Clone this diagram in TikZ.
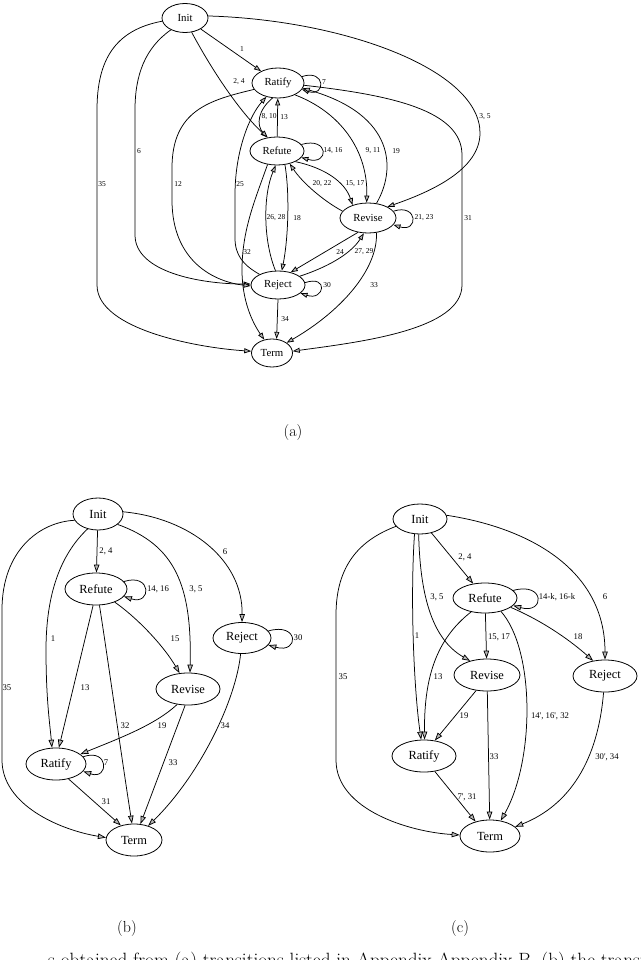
\documentclass[tikz,border=0pt]{standalone}
\usepackage{fontspec}
\newfontfamily\gvfont{Liberation Serif}
\usetikzlibrary{arrows.meta,shapes.geometric}
\begin{document}
\begin{tikzpicture}[x=1pt,y=-1pt,
  st/.style={draw, ellipse, inner sep=0pt, line width=0.8pt, font=\gvfont\fontsize{10.8}{12}\selectfont},
  stb/.style={draw, ellipse, inner sep=0pt, line width=0.8pt, font=\gvfont\fontsize{12.4}{14}\selectfont},
  tr/.style={line width=0.75pt, -{Triangle[length=7pt,width=5pt,fill=gray!55]}},
  trb/.style={line width=0.75pt, -{Triangle[length=8pt,width=5.5pt,fill=gray!55]}},
  lab/.style={inner sep=0pt, font=\gvfont\fontsize{7.5}{9}\selectfont},
  labb/.style={inner sep=0pt, font=\gvfont\fontsize{8.7}{10}\selectfont},
  subcap/.style={inner sep=0pt, font=\fontsize{16}{19}\selectfont},
  captext/.style={inner sep=0pt, font=\fontsize{19.2}{23}\selectfont}
]
\useasboundingbox (0,0) rectangle (640,960);

% ---------------- (a) ----------------
\node[st, minimum width=46pt, minimum height=29pt] (aI) at (185,18) {Init};
\node[st, minimum width=52pt, minimum height=30pt] (aRa) at (278,83) {Ratify};
\node[st, minimum width=54pt, minimum height=28pt] (aRf) at (277,151) {Refute};
\node[st, minimum width=56pt, minimum height=30pt] (aRv) at (368,218) {Revise};
\node[st, minimum width=54pt, minimum height=28pt] (aRj) at (278,285) {Reject};
\node[st, minimum width=41pt, minimum height=28pt] (aT) at (272,353) {Term};

\draw[tr] (aI) -- (aRa);
\draw[tr] (aI.-65) .. controls (213,72) and (240,112) .. (aRf.125);
\draw[tr] (aI.5) .. controls (345,20) and (480,70) .. (480,133) .. controls (480,170) and (430,192) .. (aRv.30);
\draw[tr] (aI.-140) .. controls (145,48) and (135,75) .. (135,110) -- (135,235) .. controls (135,272) and (200,284) .. (aRj.178);
\draw[tr] (aI.-172) .. controls (115,30) and (97,60) .. (97,110) -- (97,285) .. controls (97,330) and (200,348) .. (aT.175);
\draw[tr] (aRa.15) .. controls +(24,-8) and +(24,8) .. (aRa.-15);
\draw[tr] (aRa.-110) .. controls (258,110) and (256,125) .. (aRf.125);
\draw[tr] (aRf) -- (aRa);
\draw[tr] (aRa.-35) .. controls (340,112) and (368,150) .. (aRv.95);
\draw[tr] (aRv.60) .. controls (396,170) and (396,115) .. (aRa.-12);
\draw[tr] (aRa.-5) .. controls (390,95) and (462,110) .. (462,155) -- (462,285) .. controls (462,330) and (360,342) .. (aT.5);
\draw[tr] (aRf.15) .. controls +(28,-8) and +(28,8) .. (aRf.-15);
\draw[tr] (aRf.-30) .. controls (325,168) and (345,182) .. (aRv.140);
\draw[tr] (aRv.165) .. controls (322,200) and (302,182) .. (aRf.-45);
\draw[tr] (aRf.-60) .. controls (290,195) and (288,240) .. (aRj.75);
\draw[tr] (aRj.100) .. controls (263,240) and (263,195) .. (aRf.-95);
\draw[tr] (aRj.150) .. controls (243,265) and (235,255) .. (235,238) -- (235,195) .. controls (235,150) and (250,115) .. (aRa.-130);
\draw[tr] (aRa.-165) .. controls (210,100) and (172,110) .. (172,168) -- (172,200) .. controls (172,262) and (215,282) .. (aRj.182);
\draw[tr] (aRf.-125) .. controls (255,200) and (242,230) .. (242,270) .. controls (242,300) and (252,322) .. (aT.120);
\draw[tr] (aRv.15) .. controls +(25,-8) and +(25,8) .. (aRv.-15);
\draw[tr] (aRv.-125) -- (aRj.45);
\draw[tr] (aRj.22) .. controls (325,268) and (350,255) .. (aRv.-105);
\draw[tr] (aRv.-60) .. controls (378,270) and (340,312) .. (aT.35);
\draw[tr] (aRj.5) .. controls +(24,-8) and +(24,8) .. (aRj.-20);
\draw[tr] (aRj.-90) -- (aT.72);

\node[lab] (la1) at (242,49) {1};
\node[lab] (la24) at (239,82) {2, 4};
\node[lab] (la35) at (485,117) {3, 5};
\node[lab] (la6) at (139,151) {6};
\node[lab] (la35b) at (102,184) {35};
\node[lab] (la7) at (324,82) {7};
\node[lab] (la810) at (269,117) {8, 10};
\node[lab] (la13) at (284,117) {13};
\node[lab] (la911) at (373,151) {9, 11};
\node[lab] (la19) at (396,151) {19};
\node[lab] (la1416) at (333,151) {14, 16};
\node[lab] (la12) at (178,184) {12};
\node[lab] (la25) at (240,184) {25};
\node[lab] (la2022) at (322,184) {20, 22};
\node[lab] (la1517) at (355,184) {15, 17};
\node[lab] (la31) at (468,218) {31};
\node[lab] (la2628) at (276,218) {26, 28};
\node[lab] (la18) at (297,218) {18};
\node[lab] (la2123) at (424,218) {21, 23};
\node[lab] (la32) at (247,252) {32};
\node[lab] (la24b) at (340,252) {24};
\node[lab] (la2729) at (364,252) {27, 29};
\node[lab] (la30) at (327,285) {30};
\node[lab] (la33) at (374,285) {33};
\node[lab] (la34) at (285,319) {34};

\node[subcap] (capa) at (293,433) {(a)};

% ---------------- (b) ----------------
\node[stb, minimum width=50pt, minimum height=32pt] (bI) at (98,514) {Init};
\node[stb, minimum width=62pt, minimum height=32pt] (bRf) at (96,589) {Refute};
\node[stb, minimum width=58pt, minimum height=31pt] (bRj) at (242,638) {Reject};
\node[stb, minimum width=64pt, minimum height=32pt] (bRv) at (188,689) {Revise};
\node[stb, minimum width=60pt, minimum height=32pt] (bRa) at (56,764) {Ratify};
\node[stb, minimum width=56pt, minimum height=32pt] (bT) at (134,840) {Term};

\draw[trb] (bI) -- (bRf);
\draw[trb] (bRf.15) .. controls +(28,-9) and +(28,9) .. (bRf.-15);
\draw[trb] (bI.-28) .. controls (175,545) and (192,585) .. (bRv.83);
\draw[trb] (bI.5) .. controls (190,518) and (243,560) .. (bRj.north);
\draw[trb] (bI.-125) .. controls (60,555) and (46,595) .. (46,650) .. controls (46,700) and (50,725) .. (bRa.104);
\draw[trb] (bI.-165) .. controls (40,522) and (2,550) .. (2,610) -- (2,760) .. controls (2,805) and (60,830) .. (bT.175);
\draw[trb] (bRf.-35) .. controls (140,620) and (165,648) .. (bRv.118);
\draw[trb] (bRf.-100) -- (bRa.80);
\draw[trb] (bRf.-78) .. controls (108,660) and (122,760) .. (bT.97);
\draw[trb] (bRv.-125) .. controls (155,725) and (120,738) .. (bRa.22);
\draw[trb] (bRv.-100) -- (bT.68);
\draw[trb] (bRj.-95) .. controls (236,700) and (200,775) .. (bT.45);
\draw[trb] (bRa.15) .. controls +(26,-9) and +(26,9) .. (bRa.-15);
\draw[trb] (bRa.-50) -- (bT.132);
\draw[trb] (bRj.15) .. controls +(31,-9) and +(31,9) .. (bRj.-15);

\node[labb] (lb24) at (106,551) {2, 4};
\node[labb] (lb1416) at (158,589) {14, 16};
\node[labb] (lb35) at (196,589) {3, 5};
\node[labb] (lb6) at (225,552) {6};
\node[labb] (lb1) at (53,639) {1};
\node[labb] (lb35b) at (7,688) {35};
\node[labb] (lb15) at (175,639) {15};
\node[labb] (lb13) at (85,688) {13};
\node[labb] (lb32) at (125,726) {32};
\node[labb] (lb19) at (162,726) {19};
\node[labb] (lb34) at (225,726) {34};
\node[labb] (lb33) at (173,763) {33};
\node[labb] (lb7) at (106,763) {7};
\node[labb] (lb31) at (106,802) {31};
\node[labb] (lb30) at (298,638) {30};

\node[subcap] (capb) at (127,928) {(b)};

% ---------------- (c) ----------------
\node[stb, minimum width=54pt, minimum height=30pt] (cI) at (420,519) {Init};
\node[stb, minimum width=64pt, minimum height=30pt] (cRf) at (485,598) {Refute};
\node[stb, minimum width=66pt, minimum height=32pt] (cRv) at (487,675) {Revise};
\node[stb, minimum width=64pt, minimum height=32pt] (cRj) at (605,676) {Reject};
\node[stb, minimum width=64pt, minimum height=32pt] (cRa) at (424,756) {Ratify};
\node[stb, minimum width=60pt, minimum height=32pt] (cT) at (490,836) {Term};

\draw[trb] (cI) -- (cRf);
\draw[trb] (cRf.15) .. controls +(32,-9) and +(32,9) .. (cRf.-15);
\draw[trb] (cI.8) .. controls (530,528) and (605,570) .. (cRj.north);
\draw[trb] (cI.-95) .. controls (420,590) and (430,638) .. (cRv.140);
\draw[trb] (cI.-110) .. controls (410,600) and (414,690) .. (cRa.100);
\draw[trb] (cI.-163) .. controls (360,540) and (336,565) .. (336,615) -- (336,760) .. controls (336,810) and (410,832) .. (cT.178);
\draw[trb] (cRf) -- (cRv);
\draw[trb] (cRf.-20) .. controls (545,622) and (572,642) .. (cRj.128);
\draw[trb] (cRf.-135) .. controls (435,640) and (424,680) .. (cRa.88);
\draw[trb] (cRf.-40) .. controls (535,650) and (535,760) .. (cT.55);
\draw[trb] (cRv.-125) -- (cRa.55);
\draw[trb] (cRv) -- (cT);
\draw[trb] (cRa.-55) -- (cT.135);
\draw[trb] (cRj.-95) .. controls (598,760) and (570,805) .. (cT.20);

\node[labb] (lc24) at (465,557) {2, 4};
\node[labb] (lc1416) at (557,597) {14-k, 16-k};
\node[labb] (lc6) at (605,597) {6};
\node[labb] (lc35) at (437,597) {3, 5};
\node[labb] (lc1) at (417,636) {1};
\node[labb] (lc1517) at (499,637) {15, 17};
\node[labb] (lc18) at (578,637) {18};
\node[labb] (lc35b) at (343,677) {35};
\node[labb] (lc13) at (438,677) {13};
\node[labb] (lc14) at (550,716) {14', 16', 32};
\node[labb] (lc19) at (464,716) {19};
\node[labb] (lc33) at (494,757) {33};
\node[labb] (lc7) at (467,797) {7', 31};
\node[labb] (lc30) at (607,757) {30', 34};

\node[subcap] (capc) at (460,928) {(c)};

\node[captext, anchor=base west] (captxt) at (48,966) {s obtained from (a) transitions listed in Appendix Appendix B, (b) the transitions};
\end{tikzpicture}
\end{document}
